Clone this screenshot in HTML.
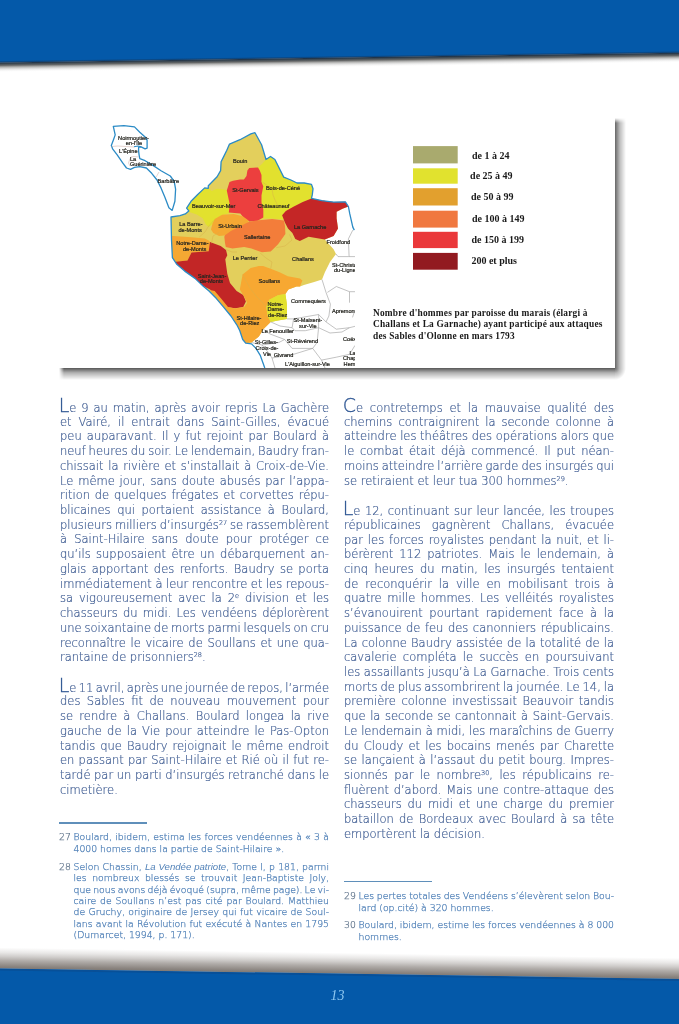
<!DOCTYPE html>
<html lang="fr">
<head>
<meta charset="utf-8">
<title>Page 13</title>
<style>
html,body{margin:0;padding:0;background:#fff;}
body{width:679px;height:1024px;position:relative;overflow:hidden;font-family:"Liberation Sans",sans-serif;}
.abs{position:absolute;}
.pn{position:absolute;left:330.5px;top:987.5px;font:italic 14px "Liberation Serif",serif;color:#8cc6f0;}
#map{position:absolute;left:59px;top:117px;width:556px;height:251px;background:#fff;}
#map svg{display:block;}
.shr{position:absolute;left:615px;top:118px;width:11px;height:250px;background:linear-gradient(to right,rgba(0,0,0,.6),rgba(0,0,0,.25) 45%,rgba(0,0,0,0));-webkit-mask-image:linear-gradient(to bottom,transparent 0,#000 5px);}
.shb{position:absolute;left:59px;top:368px;width:556px;height:12px;background:linear-gradient(to bottom,rgba(0,0,0,.66),rgba(0,0,0,.3) 40%,rgba(0,0,0,0));-webkit-mask-image:linear-gradient(to right,transparent 0,#000 5px);}
.shc{position:absolute;left:615px;top:368px;width:11px;height:12px;background:radial-gradient(ellipse 11px 12px at 0 0,rgba(0,0,0,.6),rgba(0,0,0,.25) 45%,rgba(0,0,0,0));}
.col{position:absolute;color:#425f94;}
.l,.ln.l{font-family:"DejaVu Sans",sans-serif;font-weight:200;font-size:11.5px;letter-spacing:0;line-height:14.72px;-webkit-text-stroke:0.2px #425f94;}
.l{display:block;height:14.72px;text-align:justify;text-align-last:justify;white-space:nowrap;}
.e{text-align-last:left !important;}
.gap{height:14.76px;}
.dc{margin-left:-1.3px;color:#2f5794;-webkit-text-stroke:0.3px #2f5794;font-size:19px;line-height:10px;letter-spacing:0;}
sup{font-size:6.5px;vertical-align:4.5px;line-height:0;letter-spacing:0;}
.fn{position:absolute;color:#5282b8;}
.fn i{-webkit-text-stroke:0;font-weight:400;font-family:"Liberation Sans",sans-serif;font-size:9.6px;}
.rule{position:absolute;height:1.3px;background:#5f8fba;width:88px;}
.fnb{position:absolute;left:0;width:270px;}
.fnb .n{position:absolute;left:0;top:0;color:#66798f;-webkit-text-stroke-color:#66798f !important;font-family:"DejaVu Sans",sans-serif;font-weight:200;font-size:9.3px;line-height:11.4px;-webkit-text-stroke:0.25px #5282b8;}
.t,.ln.t{font-family:"DejaVu Sans",sans-serif;font-weight:200;font-size:9.3px;letter-spacing:0;line-height:11.4px;-webkit-text-stroke:0.25px #5282b8;}
.t{display:block;margin-left:14.5px;text-align:justify;text-align-last:justify;white-space:nowrap;height:11.4px;}
.col,.fn,#map,.pn{filter:blur(0.35px);}

</style>
</head>
<body>
<svg class="abs" style="left:0;top:0" width="679" height="80" viewBox="0 0 679 80">
<defs>
<linearGradient id="ts" x1="0" y1="0" x2="0" y2="1">
<stop offset="0" stop-color="#142a44" stop-opacity="1"/>
<stop offset=".12" stop-color="#2c3a46" stop-opacity=".95"/>
<stop offset=".3" stop-color="#4a4c4c" stop-opacity=".85"/>
<stop offset=".5" stop-color="#8a8a88" stop-opacity=".6"/>
<stop offset=".75" stop-color="#c8c8c8" stop-opacity=".3"/>
<stop offset="1" stop-color="#fff" stop-opacity="0"/>
</linearGradient>
<linearGradient id="te" x1="0" y1="0" x2="0" y2="1">
<stop offset="0" stop-color="#0459a9"/>
<stop offset="1" stop-color="#0f3f70"/>
</linearGradient>
</defs>
<g transform="rotate(-0.821 0 62.4)">
<rect x="-20" y="-80" width="720" height="142.4" fill="#0459a9"/>
<rect x="-20" y="60.6" width="720" height="1.8" fill="url(#te)"/>
<rect x="-20" y="62.4" width="720" height="10" fill="url(#ts)"/>
</g>
</svg>
<svg class="abs" style="left:0;top:930px" width="679" height="94" viewBox="0 930 679 94">
<defs>
<linearGradient id="bs" x1="0" y1="0" x2="0" y2="1">
<stop offset="0" stop-color="#6a625c" stop-opacity="0"/>
<stop offset=".24" stop-color="#6a625c" stop-opacity=".15"/>
<stop offset=".43" stop-color="#6a625c" stop-opacity=".32"/>
<stop offset=".62" stop-color="#6a625c" stop-opacity=".53"/>
<stop offset=".9" stop-color="#6a625c" stop-opacity=".78"/>
<stop offset="1" stop-color="#6a625c" stop-opacity=".85"/>
</linearGradient>
</defs>
<g transform="rotate(0.891 0 968.4)">
<rect x="-20" y="947.4" width="720" height="21" fill="url(#bs)"/>
<rect x="-20" y="968.4" width="720" height="80" fill="#0459a9"/>
<rect x="-20" y="968.4" width="720" height="2" fill="#0a4d94" opacity=".8"/>
</g>
</svg>
<div class="pn">13</div>

<div id="map">
<svg id="mapsvg" width="556" height="251" viewBox="59 117 556 251">
<g stroke="none">
<!-- tan base mainland -->
<polygon fill="#e3cf5c" points="255,132.7 261.6,144.7 266,159.5 270.5,156.5 274.9,159.5 283.7,177.1 290.9,180 297,183 304.2,183 311.5,184.4 313,188.8 312.3,194.7 311.5,198.4 321.9,200.6 333.6,202.1 345.4,201.8 348.4,206.5 342.5,208.7 336.6,211.7 336.6,218.3 338,228.6 333.6,236 324.8,239.6 333.6,249.2 336,254 330,262 325,272 322,279.5 314.2,282.1 303.9,285 300,286.5 296.5,286.5 288.4,289.5 285.4,293.9 286.9,304.2 286.9,318.9 278,320.4 270.7,321.9 263.3,329.2 258.9,336.6 251.5,342.5 245.7,343.2 242.7,339.5 239.8,330.7 236.8,324.8 230.9,316 223.6,307.1 216.2,298.3 209,291 203,286 195,278.4 184.7,271.1 176.5,263.9 172.4,257.7 171.5,240 171,217 180,215.7 185.3,213.9 188.8,210.9 186.6,208.2 191.5,200.7 197.7,194.5 204.7,187.9 208.3,188.3 208.3,185.7 212.7,181.3 217.1,176.8 220.6,170.6 221.1,161.8 223.3,157.4 226.8,150.3 229.5,144.1 240,139.7 250.8,133.9"/>
<!-- Beauvoir yellow -->
<polygon fill="#e2e12e" points="204.7,187.9 208.3,188.3 211.8,191 217.1,188.8 222.4,189.2 226.8,190.1 230,200 230,213 224.8,214.6 218.9,216.8 216,221.2 213,224.2 208.6,227.1 205.7,224.2 202.7,218.3 196.8,214.6 188.7,211.7 188.8,210.9 186.6,208.2 191.5,200.7 197.7,194.5"/>
<!-- Bois-de-Cene + Chateauneuf yellow -->
<polygon fill="#e2e12e" points="258,167.5 262.4,163.5 266,159.5 270.5,156.5 274.9,159.5 283.7,177.1 290.9,180 297,183 304.2,183 311.5,184.4 313,188.8 312.3,194.7 311.5,198.4 302.7,202.1 293.9,206.5 285.8,210.9 282.1,215.3 283.7,219.5 271.3,218.6 263,218.4 257,219 255,200 255,172"/>
<!-- St-Gervais red -->
<polygon fill="#ec3f3e" points="249.2,168 258,167.5 259.8,170.6 261.5,175 261.5,182.1 263.3,186.5 261.5,195.3 261.5,202.4 263.3,209.5 263.3,217.4 257.1,221 249.2,221.5 244,218 240.3,213.5 228.8,212.5 229.7,204.2 226.8,190.5 229.5,182.1 233,180.8 240,179.5 243.9,179.4 246.5,175.9 247.4,170.6"/>
<!-- La Garnache dark red -->
<polygon fill="#c42626" points="311.5,198.4 321.9,200.6 333.6,202.1 345.4,201.8 348.4,206.5 342.5,208.7 336.6,211.7 336.6,218.3 338,228.6 333.6,236 324.8,239.6 308.6,236.7 299.8,241.1 295.3,238.9 292.4,233 288,228.6 285,222.7 282.1,215.3 285.8,210.9 293.9,206.5 302.7,202.1"/>
<!-- St-Urbain amber -->
<polygon fill="#f5a833" points="211,229.5 212.5,223.5 214.7,219.1 222.1,214.7 233.9,214 242.7,216.2 248.6,220.6 247.1,225 241.2,229.5 233.9,232.4 226.5,235.3 219.1,236.1 213.3,233.1"/>
<!-- Sallertaine orange -->
<polygon fill="#f37d3a" points="224.3,236.8 225,243 225.8,247.1 232.4,248.6 244.2,247.1 251.5,248.6 261.9,252.3 270.7,251.5 278.1,244.2 285.4,233.9 285,226 283.9,220.6 272.2,219.1 261.9,219.9 256,220.6 248.6,222.1 239.8,226.5 230.9,230.9 225,235.3"/>
<!-- Notre-Dame-de-Monts amber -->
<polygon fill="#f5a833" points="171.6,236.1 173.6,236 191.5,237.3 204.8,238.6 208.7,240.6 210.5,242.5 208.7,251.2 191.5,252.5 187.5,260.5 175.6,261.8 172.4,257.7"/>
<!-- St-Jean-de-Monts dark red -->
<polygon fill="#c22626" points="175.6,261.8 187.5,260.5 191.5,252.5 208.7,251.2 210,242 220.7,245.9 226,249.9 227.3,255.2 225.3,259.2 226,264.5 227.3,273.7 230,283 236.6,291 243.2,295 245.9,301.6 243.2,306.9 235.3,308.2 226,306.9 218,298.9 210.1,289.6 203,286 195,278.4 184.7,271.1 176.5,263.9"/>
<!-- Soullans + St-Hilaire amber -->
<polygon fill="#f7a832" points="242.6,274.5 250.7,268 258.9,265.9 263.1,266 270.7,268.8 279.6,272.2 287.8,276.3 300,278.4 302.4,280.6 300,286.5 296.5,286.5 288.4,289.5 285.4,293.9 278,295.3 269.2,299.8 266.3,307.1 267.7,316 270.7,321.9 263.3,329.2 258.9,336.6 251.5,342.5 245.7,343.2 242.7,339.5 239.8,330.7 236.8,324.8 230.9,316 223.6,307.1 216.2,298.3 209.5,290 214.7,290.9 222.1,299.8 228,307.1 235.3,308.6 244.2,307.1 247.1,302.7 244.2,296.8 239.8,289.5 241.2,282.1"/>
<!-- Notre-Dame-de-Riez yellow -->
<polygon fill="#e2e12e" points="269.2,299.8 278,295.3 285.4,293.9 286.9,304.2 286.9,318.9 278,320.4 270.7,321.9 267.7,316 266.3,307.1"/>
</g>
<!-- light inner boundaries -->
<g fill="none" stroke="#d8b04a" stroke-width="0.6" opacity=".8">
<polyline points="261,181 268,186 272,189 273,195 275,200 278,206"/>
<polyline points="213.6,220.6 208,227 205,232 199.2,237.1"/>
<polyline points="211.5,243.3 213,236 219.8,232"/>
<polyline points="226,249.5 232,252 237,252"/>
<polyline points="260,252.9 266,258 272,262 270.7,268.8"/>
<polyline points="289.5,234.5 292,240 285,246 276.2,247.7"/>
<polyline points="242.6,274.5 246,281 250,288 256,296 262,302 266.3,307.1"/>
</g>
<!-- white communes grey boundaries -->
<g fill="none" stroke="#9a9a9a" stroke-width="0.6">
<polyline points="338,256.6 348.4,256.6 355,256.6"/>
<polyline points="352.8,230.1 348.4,238.9 349.1,256.6"/>
<polyline points="336,254 338,256.6"/>
<polyline points="322,279.5 326,292.4 330.4,304.2 328.9,316 326,321.9"/>
<polyline points="327.4,292.4 336.3,286.5 349.5,291.7 355,291.7"/>
<polyline points="349.5,291.7 349.5,302.7"/>
<polyline points="326,321.9 336.3,329.2 349.5,327.7 355,326.3"/>
<polyline points="352.5,317.4 355,310"/>
<polyline points="286.9,318.9 293.6,318.9 318.6,314.5 326,321.9"/>
<polyline points="293.6,318.9 292.1,327.7 295,330.7 305.3,330.7 318.6,327.7 318.6,314.5"/>
<polyline points="270.7,321.9 280,326 292.1,327.7"/>
<polyline points="263.3,329.2 270,334 284.7,339.5 292.1,348.4 312.7,348.4 317.1,342.5 318.6,327.7"/>
<polyline points="251.5,342.5 262,345 278.8,342.5 284.7,339.5"/>
<polyline points="262,345 268,352 272,358 275,368"/>
<polyline points="272,358 293.6,354.3 312.7,348.4 321.5,360.1 336.3,357.2 349.5,354.3 355,345.4"/>
<polyline points="321.5,360.1 325,368"/>
<polyline points="318.6,327.7 330,333 342,332 349.5,327.7"/>
</g>
<!-- island -->
<polygon fill="#fff" stroke="#2b8bc6" stroke-width="1.3" stroke-linejoin="round" points="113.3,126.3 123.9,125.6 134.5,126.9 139.8,132.2 145.1,136.9 147.1,140.2 147.1,148.1 145.1,148.8 141.1,146.8 138.6,147.2 138.6,151 139.1,154.8 139.8,158.7 145.1,160.7 153,165.4 161,170.7 170.3,176 174.2,181.3 175.6,189.2 174.9,201.2 172.2,210.4 168.9,207.8 164.9,197.2 161,187.9 157,180 151.7,173.3 146.4,168 139.8,166.7 134.5,167.4 130.5,169.3 126.5,168 122.5,162.7 117.2,154.8 112.6,148.8 111.3,145.5 113.3,140.2 115.2,134.9"/>
<g fill="none" stroke="#c8a8a0" stroke-width="0.5">
<polyline points="111.5,146.5 118,146 126,146.5 134,147"/>
<polyline points="129.5,160 131,157 134,156.5 138.6,157"/>
<polyline points="129.5,160 128.5,163 130,166"/>
<polyline points="159,172 157,175.5 156,177"/>
</g>
<polyline fill="none" stroke="#2b8bc6" stroke-width="1.1" points="134,146.8 138,146 141.1,146.8"/>
<!-- coast line -->
<polyline fill="none" stroke="#2b8bc6" stroke-width="1.3" stroke-linejoin="round" points="264.8,368 260.4,355.7 256,348.4 251.5,343.9 245.7,343.2 242.7,339.5 239.8,330.7 236.8,324.8 230.9,316 223.6,307.1 216.2,298.3 209,291 203,286 195,278.4 184.7,271.1 176.5,263.9 172.4,257.7 171.5,240 171,217 180,215.7 185.3,213.9 188.8,210.9 186.6,208.2 191.5,200.7 197.7,194.5 204.7,187.9 208.3,188.3 208.3,185.7 212.7,181.3 217.1,176.8 220.6,170.6 221.1,161.8 223.3,157.4 226.8,150.3 229.5,144.1 240,139.7 250.8,133.9 255,132.7 261.6,144.7 266,159.5 270.5,156.5 274.9,159.5 283.7,177.1 290.9,180 297,183 304.2,183 311.5,184.4 313,188.8 312.3,194.7 311.5,198.4 321.9,200.6 333.6,202.1 345.4,201.8 348.4,206.5 349.8,213.9 352.8,227.1 354.3,230.1"/>
<!-- labels -->
<g font-family="Liberation Sans, Arial, sans-serif" font-size="5.6" fill="#262620" stroke="#262620" stroke-width="0.22" text-anchor="middle">
<text x="133.5" y="139.6">Noirmoutier-</text>
<text x="134" y="144.6">en-l'Île</text>
<text x="128.3" y="153">L'Épine</text>
<text x="133" y="160.5">La</text>
<text x="143" y="165.8">Guérinière</text>
<text x="168.3" y="182.8">Barbâtre</text>
<text x="240.2" y="163">Bouin</text>
<text x="245.4" y="192.3">St-Gervais</text>
<text x="283" y="190.2">Bois-de-Céné</text>
<text x="213.7" y="207.6">Beauvoir-sur-Mer</text>
<text x="273.4" y="208">Châteauneuf</text>
<text x="310.1" y="228.7">La Garnache</text>
<text x="190.9" y="226.2">La Barre-</text>
<text x="190.1" y="231.5">de-Monts</text>
<text x="230" y="228.2">St-Urbain</text>
<text x="257.2" y="239.4">Sallertaine</text>
<text x="338.4" y="243.5">Froidfond</text>
<text x="192.4" y="245.3">Notre-Dame-</text>
<text x="194.6" y="250.6">de-Monts</text>
<text x="303" y="261.4">Challans</text>
<text x="245" y="259.6">Le Perrier</text>
<text x="212" y="277.8">Saint-Jean-</text>
<text x="211.5" y="282.7">de-Monts</text>
<text x="269.3" y="283.3">Soullans</text>
<text x="275.2" y="305.8">Notre-</text>
<text x="275.8" y="311.2">Dame-</text>
<text x="277.7" y="317.1">de-Riez</text>
<text x="249" y="319.8">St-Hilaire-</text>
<text x="249.7" y="325.2">de-Riez</text>
<text x="277.7" y="333">Le Fenouiller</text>
<text x="266.3" y="344.4">St-Gilles-</text>
<text x="267" y="350.3">Croix-de-</text>
<text x="267" y="355.7">Vie</text>
<text x="283.5" y="357.3">Givrand</text>
<text x="302.4" y="342.6">St-Révérend</text>
<text x="308.5" y="303.4">Commequiers</text>
<text x="307.9" y="322.3">St-Maixent-</text>
<text x="307.9" y="328.2">sur-Vie</text>
<text x="307.5" y="365.7">L'Aiguillon-sur-Vie</text>
</g>
<g font-family="Liberation Sans, Arial, sans-serif" font-size="5.6" fill="#262620" stroke="#262620" stroke-width="0.22">
<text x="332" y="267.1">St-Christo</text>
<text x="334" y="272.2">du-Ligne</text>
<text x="332" y="312.7">Apremont</text>
<text x="343" y="340.7">Coëx</text>
<text x="349.5" y="354.7">La</text>
<text x="343" y="359.9">Chap</text>
<text x="343.6" y="365.7">Herm</text>
</g>
<!-- white cover right of crop -->
<rect x="355" y="117" width="260" height="251" fill="#fff"/>
<!-- legend -->
<rect x="413" y="146.1" width="44.7" height="17.3" fill="#a9aa6e"/>
<rect x="413" y="168.3" width="44.7" height="15.4" fill="#e1e22e"/>
<rect x="413" y="188.2" width="44.7" height="17.3" fill="#e2a02e"/>
<rect x="413" y="210.7" width="44.7" height="16.9" fill="#f07840"/>
<rect x="413" y="231.8" width="44.7" height="16.3" fill="#ea383a"/>
<rect x="413" y="252.9" width="44.7" height="16.8" fill="#921a20"/>
<g font-family="Liberation Serif, serif" font-weight="bold" font-size="10" fill="#1a1a1a">
<text x="472" y="158.6">de 1 à 24</text>
<text x="470.1" y="179.1">de 25 à 49</text>
<text x="471" y="199.8">de 50 à 99</text>
<text x="472" y="222.2">de 100 à 149</text>
<text x="471.4" y="243.3">de 150 à 199</text>
<text x="471.4" y="264">200 et plus</text>
</g>
<g font-family="Liberation Serif, serif" font-weight="bold" font-size="9.4" letter-spacing="0.19" fill="#1a1a1a">
<text x="373" y="315.9">Nombre d'hommes par paroisse du marais (élargi à</text>
<text x="373" y="327.4">Challans et La Garnache) ayant participé aux attaques</text>
<text x="373" y="338.9">des Sables d'Olonne en mars 1793</text>
</g>
</svg>

</div>
<div class="shr"></div><div class="shb"></div><div class="shc"></div>

<div class="col" style="left:60px;top:400px;width:269px;">
<div class="l"><span class="dc">L</span>e 9 au matin, après avoir repris La Gachère</div>
<div class="l">et Vairé, il entrait dans Saint-Gilles, évacué</div>
<div class="l">peu auparavant. Il y fut rejoint par Boulard à</div>
<div class="l" style="word-spacing:-0.86px">neuf heures du soir. Le lendemain, Baudry fran-</div>
<div class="l">chissait la rivière et s’installait à Croix-de-Vie.</div>
<div class="l">Le même jour, sans doute abusés par l’appa-</div>
<div class="l">rition de quelques frégates et corvettes répu-</div>
<div class="l">blicaines qui portaient assistance à Boulard,</div>
<div class="l" style="word-spacing:-0.95px">plusieurs milliers d’insurgés<sup>27</sup> se rassemblèrent</div>
<div class="l">à Saint-Hilaire sans doute pour protéger ce</div>
<div class="l">qu’ils supposaient être un débarquement an-</div>
<div class="l">glais apportant des renforts. Baudry se porta</div>
<div class="l" style="word-spacing:-0.28px">immédiatement à leur rencontre et les repous-</div>
<div class="l">sa vigoureusement avec la 2<sup>e</sup> division et les</div>
<div class="l">chasseurs du midi. Les vendéens déplorèrent</div>
<div class="l" style="word-spacing:-0.92px">une soixantaine de morts parmi lesquels on cru</div>
<div class="l">reconnaître le vicaire de Soullans et une qua-</div>
<div class="l e">rantaine de prisonniers<sup>28</sup>.</div>
<div class="gap"></div>
<div class="l" style="word-spacing:-1.42px"><span class="dc">L</span>e 11 avril, après une journée de repos, l’armée</div>
<div class="l">des Sables fit de nouveau mouvement pour</div>
<div class="l">se rendre à Challans. Boulard longea la rive</div>
<div class="l">gauche de la Vie pour atteindre le Pas-Opton</div>
<div class="l">tandis que Baudry rejoignait le même endroit</div>
<div class="l">en passant par Saint-Hilaire et Rié où il fut re-</div>
<div class="l" style="word-spacing:-0.17px">tardé par un parti d’insurgés retranché dans le</div>
<div class="l e">cimetière.</div>
</div>

<div class="col" style="left:344px;top:400px;width:270px;">
<div class="l"><span class="dc">C</span>e contretemps et la mauvaise qualité des</div>
<div class="l">chemins contraignirent la seconde colonne à</div>
<div class="l" style="word-spacing:-0.11px">atteindre les théâtres des opérations alors que</div>
<div class="l">le combat était déjà commencé. Il put néan-</div>
<div class="l" style="word-spacing:-0.73px">moins atteindre l’arrière garde des insurgés qui</div>
<div class="l e">se retiraient et leur tua 300 hommes<sup>29</sup>.</div>
<div class="gap"></div>
<div class="l"><span class="dc">L</span>e 12, continuant sur leur lancée, les troupes</div>
<div class="l">républicaines gagnèrent Challans, évacuée</div>
<div class="l">par les forces royalistes pendant la nuit, et li-</div>
<div class="l">bérèrent 112 patriotes. Mais le lendemain, à</div>
<div class="l">cinq heures du matin, les insurgés tentaient</div>
<div class="l">de reconquérir la ville en mobilisant trois à</div>
<div class="l">quatre mille hommes. Les velléités royalistes</div>
<div class="l">s’évanouirent pourtant rapidement face à la</div>
<div class="l">puissance de feu des canonniers républicains.</div>
<div class="l">La colonne Baudry assistée de la totalité de la</div>
<div class="l">cavalerie compléta le succès en poursuivant</div>
<div class="l" style="word-spacing:-0.18px">les assaillants jusqu’à La Garnache. Trois cents</div>
<div class="l" style="word-spacing:-0.84px">morts de plus assombrirent la journée. Le 14, la</div>
<div class="l">première colonne investissait Beauvoir tandis</div>
<div class="l">que la seconde se cantonnait à Saint-Gervais.</div>
<div class="l">Le lendemain à midi, les maraîchins de Guerry</div>
<div class="l">du Cloudy et les bocains menés par Charette</div>
<div class="l">se lançaient à l’assaut du petit bourg. Impres-</div>
<div class="l">sionnés par le nombre<sup>30</sup>, les républicains re-</div>
<div class="l">fluèrent d’abord. Mais une contre-attaque des</div>
<div class="l">chasseurs du midi et une charge du premier</div>
<div class="l">bataillon de Bordeaux avec Boulard à sa tête</div>
<div class="l e">emportèrent la décision.</div>
</div>

<div class="fn" style="left:59px;top:0;width:270px;">
<div class="rule" style="left:0;top:822.4px;"></div>
<div class="fnb" style="top:831.3px"><span class="n">27</span>
<div class="t">Boulard, ibidem, estima les forces vendéennes à « 3 à</div>
<div class="t e">4000 homes dans la partie de Saint-Hilaire ».</div>
</div>
<div class="fnb" style="top:860.8px"><span class="n">28</span>
<div class="t" style="word-spacing:-0.66px">Selon Chassin, <i>La Vendée patriote</i>, Tome I, p 181, parmi</div>
<div class="t">les nombreux blessés se trouvait Jean-Baptiste Joly,</div>
<div class="t" style="word-spacing:-0.85px">que nous avons déjà évoqué (supra, même page). Le vi-</div>
<div class="t">caire de Soullans n’est pas cité par Boulard. Matthieu</div>
<div class="t">de Gruchy, originaire de Jersey qui fut vicaire de Soul-</div>
<div class="t">lans avant la Révolution fut exécuté à Nantes en 1795</div>
<div class="t e">(Dumarcet, 1994, p. 171).</div>
</div>
</div>

<div class="fn" style="left:344px;top:0;width:270px;">
<div class="rule" style="left:0;top:881px;"></div>
<div class="fnb" style="top:890.4px"><span class="n">29</span>
<div class="t" style="word-spacing:-0.36px">Les pertes totales des Vendéens s’élevèrent selon Bou-</div>
<div class="t e">lard (op.cité) à 320 hommes.</div>
</div>
<div class="fnb" style="top:919.3px"><span class="n">30</span>
<div class="t" style="word-spacing:-0.15px">Boulard, ibidem, estime les forces vendéennes à 8 000</div>
<div class="t e">hommes.</div>
</div>
</div>

</body>
</html>
